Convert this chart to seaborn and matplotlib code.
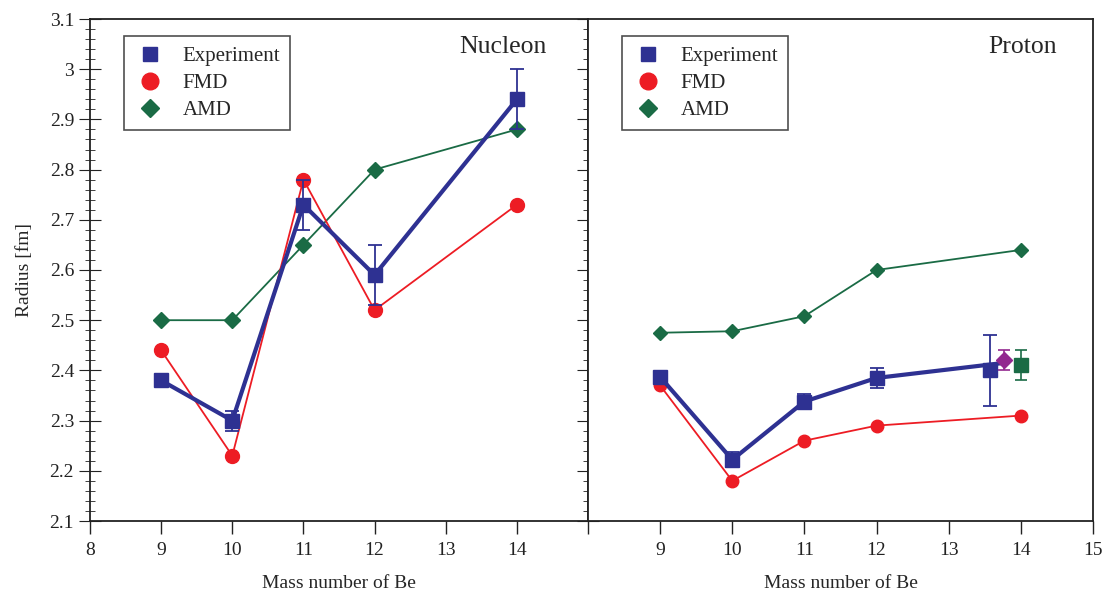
import matplotlib.pyplot as plt
import seaborn as sns
from matplotlib.lines import Line2D
from matplotlib.ticker import MultipleLocator

sns.set_style("ticks")
plt.rcParams['font.family'] = ['Liberation Serif', 'DejaVu Serif']

BLUE = '#2e3192'
RED = '#ed1c24'
GREEN = '#1a6b45'
PURPLE = '#92278f'

# Nucleon radii (left panel)
nuc_mass = [9, 10, 11, 12, 14]
nuc_exp = [2.38, 2.30, 2.73, 2.59, 2.94]
nuc_exp_err = [0.0, 0.02, 0.05, 0.06, 0.06]
nuc_fmd = [2.44, 2.23, 2.78, 2.52, 2.73]
nuc_amd = [2.50, 2.50, 2.65, 2.80, 2.88]

# Proton radii (right panel)
pro_mass = [9, 10, 11, 12, 14]
pro_exp_mass = [9, 10, 11, 12, 13.57]
pro_exp = [2.387, 2.222, 2.338, 2.385, 2.40]
pro_exp_err = [0.005, 0.015, 0.015, 0.02, 0.07]
pro_line_mass = [9, 10, 11, 12, 13.77]
pro_line = [2.387, 2.222, 2.338, 2.385, 2.415]
pro_fmd = [2.37, 2.18, 2.26, 2.29, 2.31]
pro_amd = [2.475, 2.478, 2.508, 2.60, 2.64]
pro_extra_dia = (13.77, 2.42, 0.02)
pro_extra_sq = (14.0, 2.41, 0.03)

fig = plt.figure(figsize=(11.03, 5.92), dpi=100)
ax1 = fig.add_axes([90 / 1103, 71 / 592, 498 / 1103, 502 / 592])
ax2 = fig.add_axes([588 / 1103, 71 / 592, 505 / 1103, 502 / 592], sharey=ax1)


def draw_series(ax, x, y, color, marker, ms, lw):
    sns.lineplot(x=x, y=y, ax=ax, color=color, lw=lw, legend=False, sort=False)
    ax.plot(x, y, ls='none', marker=marker, ms=ms, color=color, mec=color)


# left panel
draw_series(ax1, nuc_mass, nuc_amd, GREEN, 'D', 8, 1.3)
draw_series(ax1, nuc_mass, nuc_fmd, RED, 'o', 10, 1.3)
ax1.errorbar(nuc_mass, nuc_exp, yerr=nuc_exp_err, fmt='none', ecolor=BLUE,
             elinewidth=1.3, capsize=5, capthick=1.3)
draw_series(ax1, nuc_mass, nuc_exp, BLUE, 's', 10, 3)

# right panel
draw_series(ax2, pro_mass, pro_amd, GREEN, 'D', 7, 1.3)
draw_series(ax2, pro_mass, pro_fmd, RED, 'o', 9, 1.3)
ax2.errorbar(pro_exp_mass, pro_exp, yerr=pro_exp_err, fmt='none', ecolor=BLUE,
             elinewidth=1.3, capsize=5, capthick=1.3)
sns.lineplot(x=pro_line_mass, y=pro_line, ax=ax2, color=BLUE, lw=3,
             legend=False, sort=False)
ax2.plot(pro_exp_mass, pro_exp, ls='none', marker='s', ms=10, color=BLUE)
ax2.errorbar([pro_extra_dia[0]], [pro_extra_dia[1]], yerr=[pro_extra_dia[2]],
             fmt='D', ms=8, color=PURPLE, elinewidth=1.2, capsize=4, capthick=1.2)
ax2.errorbar([pro_extra_sq[0]], [pro_extra_sq[1]], yerr=[pro_extra_sq[2]],
             fmt='s', ms=10, color=GREEN, elinewidth=1.2, capsize=4, capthick=1.2)

for ax in (ax1, ax2):
    ax.set_xlim(8, 15)
    ax.set_ylim(2.1, 3.1)
    ax.tick_params(axis='x', direction='out', length=9, width=1,
                   labelsize=14, pad=6, colors='#222222')
    ax.set_xlabel('Mass number of Be', fontsize=14, labelpad=12)
    for s in ax.spines.values():
        s.set_linewidth(1.3)
        s.set_color('#222222')
        s.set_visible(True)

ax1.set_xticks(range(8, 16))
ax1.set_xticklabels([str(v) for v in range(8, 15)] + [''])
ax2.set_xticks(range(9, 16))

ax1.set_yticks([2.1 + 0.1 * i for i in range(11)])
ax1.set_yticklabels(['2.1', '2.2', '2.3', '2.4', '2.5', '2.6', '2.7',
                     '2.8', '2.9', '3', '3.1'])
ax1.yaxis.set_minor_locator(MultipleLocator(0.02))
ax1.tick_params(axis='y', which='major', direction='inout', length=16,
                labelsize=14, left=True, right=True, colors='#222222')
ax1.tick_params(axis='y', which='minor', direction='inout', length=7,
                left=True, right=True, colors='#222222')
ax1.set_ylabel('Radius [fm]', fontsize=14, labelpad=12)
ax2.tick_params(axis='y', which='both', left=False, right=False,
                labelleft=False)

ax1.text(0.83, 0.944, 'Nucleon', transform=ax1.transAxes, fontsize=18.5,
         ha='center', va='center')
ax2.text(0.86, 0.944, 'Proton', transform=ax2.transAxes, fontsize=18.5,
         ha='center', va='center')

handles = [
    Line2D([], [], ls='none', marker='s', ms=10, color=BLUE, label='Experiment'),
    Line2D([], [], ls='none', marker='o', ms=12, color=RED, label='FMD'),
    Line2D([], [], ls='none', marker='D', ms=9, color=GREEN, label='AMD'),
]
for ax, x0 in ((ax1, 34 / 498), (ax2, 34 / 505)):
    leg = ax.legend(handles=handles, loc='upper left', bbox_to_anchor=(x0, 0.966),
                    borderaxespad=0, fontsize=15, frameon=True, fancybox=False,
                    edgecolor='#222222', handletextpad=0.8, borderpad=0.5,
                    labelspacing=0.35, handlelength=1.5)
    leg.get_frame().set_linewidth(1.2)

fig.savefig('out.png', dpi=100)
